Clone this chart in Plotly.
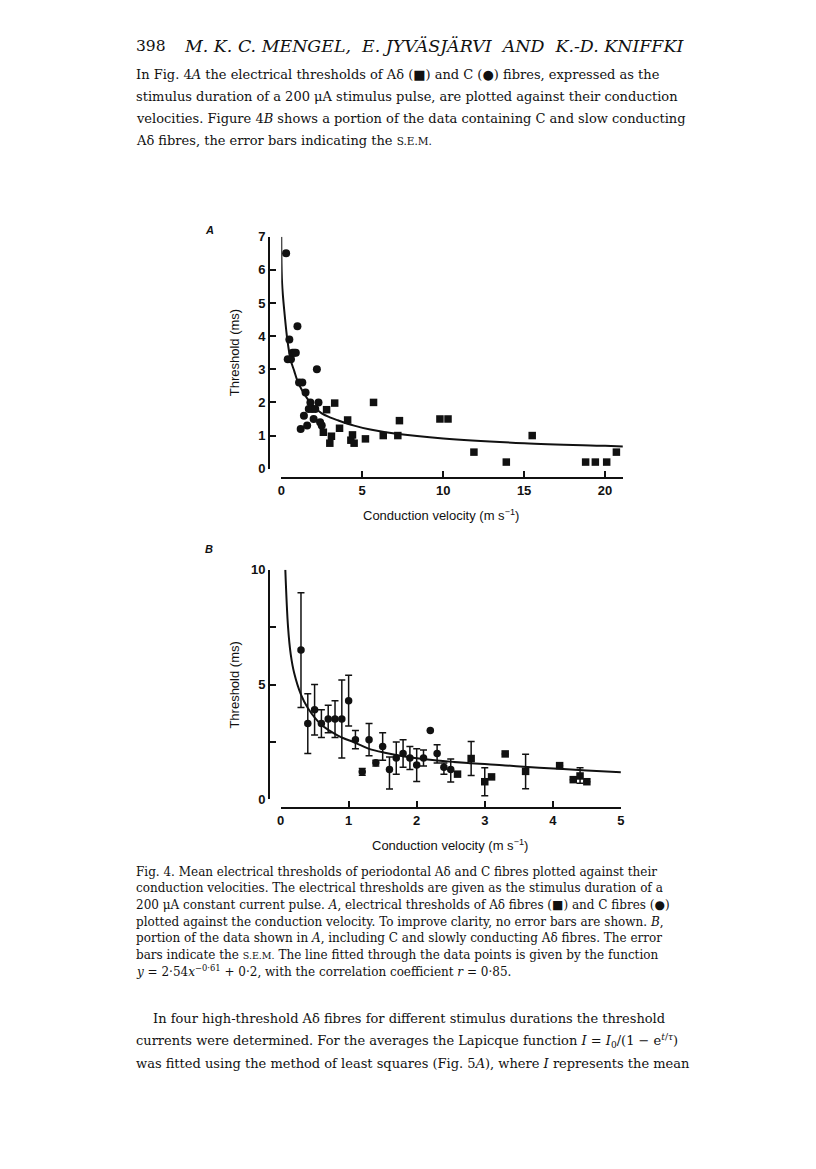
import plotly.graph_objects as go

W, H = 816, 1169
INK = '#111111'
SERIF = 'DejaVu Serif, Liberation Serif, serif'
SANS = 'Liberation Sans, Arial, sans-serif'

# C fibres: conduction velocity (m/s), threshold (ms), s.e.m. bar ends (None = no bar)
c_vel = [0.3, 0.4, 0.5, 0.6, 0.7, 0.8, 0.9, 1.0, 1.1, 1.2, 1.3, 1.4, 1.5, 1.6, 1.7, 1.8,
         1.9, 2.0, 2.1, 2.2, 2.3, 2.4, 2.5]
c_thr = [6.5, 3.3, 3.9, 3.3, 3.5, 3.5, 3.5, 4.3, 2.6, 1.2, 2.6, 1.6, 2.3, 1.3, 1.8, 2.0,
         1.8, 1.5, 1.8, 3.0, 2.0, 1.4, 1.3]
c_top = [9.0, 4.6, 5.0, 3.9, 4.1, 4.3, 5.2, 5.4, 3.0, 1.35, 3.3, 1.7, 2.9, 1.85, 2.5, 2.6,
         2.3, 2.2, 2.15, None, 2.38, 1.58, 1.76]
c_bot = [4.0, 2.0, 2.8, 2.7, 2.9, 2.7, 1.8, 3.2, 2.2, 1.05, 1.9, 1.45, 1.7, 0.45, 1.1, 1.4,
         1.3, 0.78, 1.45, None, 1.58, 1.09, 0.76]

# A-delta fibres
ad_vel = [2.6, 2.8, 3.0, 3.1, 3.3, 3.6, 4.1, 4.3, 4.4, 4.5, 5.2, 5.7, 6.3, 7.2, 7.3, 9.8,
          10.3, 11.9, 13.9, 15.5, 18.8, 19.4, 20.1, 20.7]
ad_thr = [1.1, 1.78, 0.77, 0.98, 1.98, 1.22, 1.47, 0.86, 1.02, 0.77, 0.9, 2.0, 1.0, 1.0, 1.45,
          1.5, 1.5, 0.5, 0.2, 1.0, 0.2, 0.2, 0.2, 0.5]
ad_top = [None, 2.52, 1.38, None, None, 1.97, None, None, 1.38, None, None, None, None, None,
          None, None, None, None, None, None, None, None, None, None]
ad_bot = [None, 1.04, 0.16, None, None, 0.46, None, None, 0.7, None, None, None, None, None,
          None, None, None, None, None, None, None, None, None, None]

# fitted line
fit_a_x = [0.0, 0.05, 0.2, 0.4, 0.6, 0.8, 1.0, 1.3, 1.6, 2.0, 2.5, 3.0, 3.5, 4.5, 5.5, 7.0,
           10.0, 15.0, 20.0, 21.1]
fit_a_y = [7.0, 5.6, 4.7, 3.8, 3.25, 2.95, 2.65, 2.35, 2.12, 1.88, 1.67, 1.55, 1.46, 1.3, 1.18,
           1.06, 0.91, 0.77, 0.69, 0.67]
fit_b_x = [0.07, 0.11, 0.15, 0.2, 0.3, 0.4, 0.6, 0.85, 1.1, 1.3, 1.55, 1.8, 2.3, 2.8, 3.3, 3.8,
           4.5, 5.0]
fit_b_y = [10.0, 7.5, 6.3, 5.5, 4.56, 3.98, 3.25, 2.77, 2.46, 2.2, 2.02, 1.88, 1.69, 1.57, 1.48,
           1.38, 1.26, 1.18]

B_MAX_VEL = 5.0


def px(x):
    return x / W


def py(y):
    return 1 - y / H


def err_parts(vals, tops, bots):
    up = [(t - v) if t is not None else 0 for v, t in zip(vals, tops)]
    dn = [(v - b) if b is not None else 0 for v, b in zip(vals, bots)]
    return up, dn


fig = go.Figure()

# panel A (no error bars)
fig.add_trace(go.Scatter(x=fit_a_x, y=fit_a_y, mode='lines', line=dict(color=INK, width=2, shape='spline'),
                         xaxis='x', yaxis='y', showlegend=False))
fig.add_trace(go.Scatter(x=c_vel, y=c_thr, mode='markers', cliponaxis=False,
                         marker=dict(symbol='circle', size=8, color=INK),
                         xaxis='x', yaxis='y', showlegend=False))
fig.add_trace(go.Scatter(x=ad_vel, y=ad_thr, mode='markers', cliponaxis=False,
                         marker=dict(symbol='square', size=7.5, color=INK),
                         xaxis='x', yaxis='y', showlegend=False))

# panel B (with s.e.m.)
fig.add_trace(go.Scatter(x=fit_b_x, y=fit_b_y, mode='lines', line=dict(color=INK, width=2, shape='spline'),
                         xaxis='x2', yaxis='y2', showlegend=False))
up, dn = err_parts(c_thr, c_top, c_bot)
fig.add_trace(go.Scatter(x=c_vel, y=c_thr, mode='markers', cliponaxis=False,
                         marker=dict(symbol='circle', size=7.5, color=INK),
                         error_y=dict(type='data', symmetric=False, array=up, arrayminus=dn,
                                      color=INK, thickness=1.5, width=3.5),
                         xaxis='x2', yaxis='y2', showlegend=False))
keep = [i for i, v in enumerate(ad_vel) if v <= B_MAX_VEL]
bx = [ad_vel[i] for i in keep]
by = [ad_thr[i] for i in keep]
up, dn = err_parts(by, [ad_top[i] for i in keep], [ad_bot[i] for i in keep])
fig.add_trace(go.Scatter(x=bx, y=by, mode='markers', cliponaxis=False,
                         marker=dict(symbol='square', size=7.5, color=INK),
                         error_y=dict(type='data', symmetric=False, array=up, arrayminus=dn,
                                      color=INK, thickness=1.5, width=3.5),
                         xaxis='x2', yaxis='y2', showlegend=False))

tickfont = dict(family=SANS, size=13, color=INK, weight='bold')
common = dict(showgrid=False, zeroline=False, showline=True, linecolor=INK, linewidth=2,
              ticks='inside', tickcolor=INK, tickwidth=1.5, ticklen=6, tickfont=tickfont,
              anchor='free', fixedrange=True)

fig.update_layout(
    width=W, height=H,
    margin=dict(l=0, r=0, t=0, b=0),
    paper_bgcolor='white', plot_bgcolor='white',
    xaxis=dict(domain=[px(280), px(625)], range=[0, 21.1], position=py(477.3),
               tickvals=[0, 5, 10, 15, 20], **common),
    yaxis=dict(domain=[py(467.7), py(232.7)], range=[0, 7], position=px(267.7),
               tickvals=list(range(8)), **common),
    xaxis2=dict(domain=[px(279.3), px(623)], range=[0, 5], position=py(811.7),
                tickvals=[0, 1, 2, 3, 4, 5], **common),
    yaxis2=dict(domain=[py(802.7), py(570)], range=[0, 10], position=px(267.7),
                tickvals=[0, 2.5, 5, 7.5, 10], ticktext=['0', '', '5', '', '10'], **common),
)

ann = []


def text(x, y, s, size, family=SERIF, anchor='left', angle=0, weight='normal'):
    ann.append(dict(x=px(x), y=py(y), xref='paper', yref='paper', text=s, showarrow=False,
                    xanchor=anchor, yanchor='middle', textangle=angle,
                    font=dict(family=family, size=size, color=INK, weight=weight)))


# axis titles and panel letters
for y_mid in (350, 686.7):
    text(233, y_mid, 'Threshold (ms)', 13, SANS, 'center', -90)
text(441.7, 515, 'Conduction velocity (m s<sup>\u22121</sup>)', 13, SANS, 'center')
text(450, 849, 'Conduction velocity (m s<sup>\u22121</sup>)', 13, SANS, 'center')
text(201, 226, '<i>A</i>', 11, SANS, 'left', weight='bold')
text(201, 549, '<i>B</i>', 11, SANS, 'left', weight='bold')

# page text
text(131, 40, '398', 15.5)
text(180, 40, '<i>M. K. C. MENGEL,&nbsp; E. JYV\u00c4SJ\u00c4RVI&nbsp; AND&nbsp; K.-D. KNIFFKI</i>', 17.4)

body = [
    'In Fig. 4<i>A</i> the electrical thresholds of A\u03b4 (\u25a0) and C (\u25cf) fibres, expressed as the',
    'stimulus duration of a 200 \u03bcA stimulus pulse, are plotted against their conduction',
    'velocities. Figure 4<i>B</i> shows a portion of the data containing C and slow conducting',
    'A\u03b4 fibres, the error bars indicating the <span style="font-size:10.5px">S.E.M.</span>',
]
for i, line in enumerate(body):
    text(131, 68 + 22.3 * i, line, 13)

caption = [
    'Fig. 4. Mean electrical thresholds of periodontal A\u03b4 and C fibres plotted against their',
    'conduction velocities. The electrical thresholds are given as the stimulus duration of a',
    '200 \u03bcA constant current pulse. <i>A</i>, electrical thresholds of A\u03b4 fibres (\u25a0) and C fibres (\u25cf)',
    'plotted against the conduction velocity. To improve clarity, no error bars are shown. <i>B</i>,',
    'portion of the data shown in <i>A</i>, including C and slowly conducting A\u03b4 fibres. The error',
    'bars indicate the <span style="font-size:9.5px">S.E.M.</span> The line fitted through the data points is given by the function',
    '<i>y</i> = 2\u00b754<i>x</i><sup>\u22120\u00b761</sup> + 0\u00b72, with the correlation coefficient <i>r</i> = 0\u00b785.',
]
for i, line in enumerate(caption):
    text(131, 876 + 16.8 * i, line, 12)

tail = [
    (148, 'In four high-threshold A\u03b4 fibres for different stimulus durations the threshold'),
    (131, 'currents were determined. For the averages the Lapicque function <i>I</i> = <i>I</i><sub>0</sub>/(1 \u2212 e<sup><i>t</i>/<i>\u03c4</i></sup>)'),
    (131, 'was fitted using the method of least squares (Fig. 5<i>A</i>), where <i>I</i> represents the mean'),
]
for i, (x0, line) in enumerate(tail):
    text(x0, 1025 + 22.7 * i, line, 13)

fig.update_layout(annotations=ann)
# the page's default body margin would push the figure 8px off its intended place
fig.write_html('out.html', config={'displayModeBar': False},
               post_script="document.body.style.margin='0';")
